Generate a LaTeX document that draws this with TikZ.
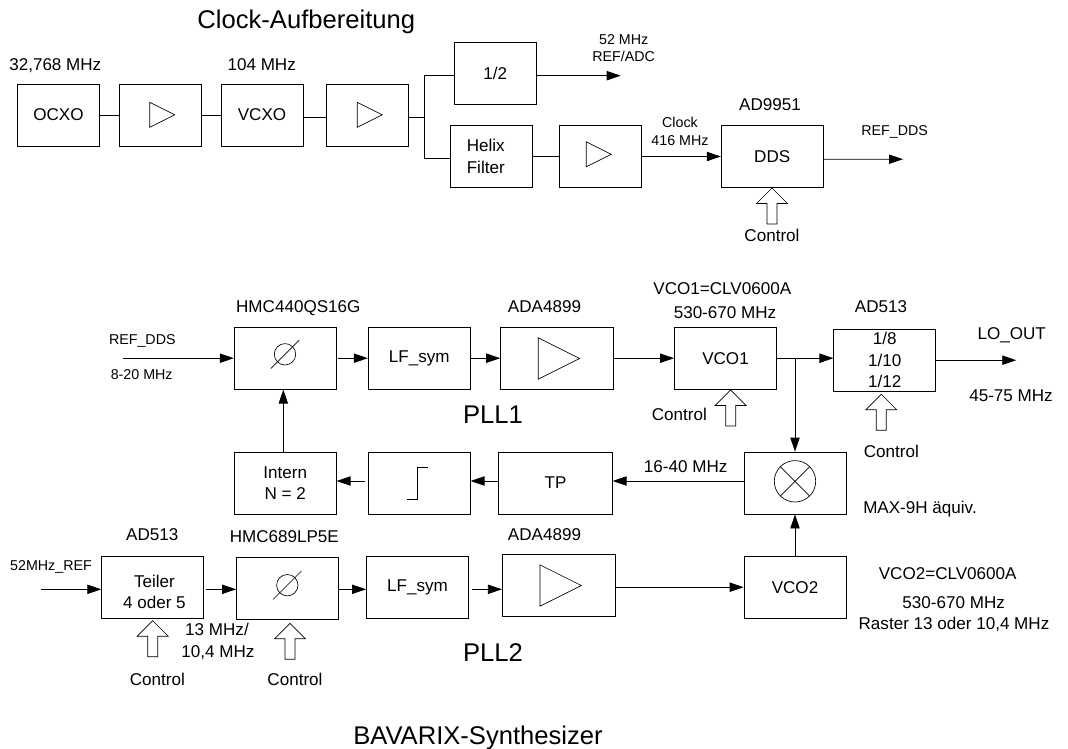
\documentclass[tikz,border=0pt]{standalone}
\usepackage{fontspec}
\setmainfont{Liberation Sans}
\usetikzlibrary{arrows.meta, calc}
\tikzset{
  % blocks
  box/.style={draw, line width=0.6pt, minimum height=46.5pt, minimum width=76.5pt,
    inner sep=0pt, align=center, font=\fontsize{12.8}{16}\selectfont},
  box short/.style={box, minimum width=61.5pt},
  box amp/.style={box, minimum width=85pt},
  % signal paths
  wire/.style={line width=0.6pt},
  sig/.style={wire, -{Triangle[length=10.5pt, width=7pt]}},
  % texts
  lbl/.style={anchor=base, font=\fontsize{12.8}{16}\selectfont},
  smalllbl/.style={anchor=base, font=\fontsize{10.7}{13}\selectfont},
  biglbl/.style={anchor=base, font=\fontsize{19.2}{23}\selectfont},
  % symbols in the blocks
  amptri/.pic={
    \draw[line width=0.5pt] (0,-12.5) -- (25,0) -- (0,12.5) -- cycle;
  },
  ctrlarrow/.pic={
    \draw[line width=0.5pt] (0,0) -- (15.5,15.5) -- (5,15.5) -- (5,36) -- (-5,36) -- (-5,15.5) -- (-15.5,15.5) -- cycle;
  },
  phase/.pic={
    \draw[line width=0.5pt] (0,0) circle (10.7);
    \draw[line width=0.5pt] (-14.2,14.2) -- (14.2,-14.2);
  },
  mixsym/.pic={
    \draw[line width=0.5pt] (0,0) circle (20.7);
    \draw[line width=0.5pt] (-14.6,-14.6) -- (14.6,14.6);
    \draw[line width=0.5pt] (-14.6,14.6) -- (14.6,-14.6);
  },
  stepsym/.pic={
    \draw[line width=0.5pt] (0,0) -- (10,0) -- (10,-31.7) -- (20.4,-31.7);
  },
}
\begin{document}
\begin{tikzpicture}[x=0.75pt, y=-0.75pt]
  \useasboundingbox (0,0) rectangle (1068,749);
  % clock chain
  \node[box short] (ocxo) at (58.5,115) {OCXO};
  \node[box short] (ampa) at (160.2,115) {};
  \node[box short] (vcxo) at (262,115) {VCXO};
  \node[box short] (ampb) at (367.7,115) {};
  \node[box short] (half) at (495.3,73.3) {1/2};
  \node[box short, label={[name=helixtxt, xshift=-4.3pt, align=center, font=\fontsize{12.8}{16}\selectfont]center:Helix\\Filter}] (helix) at (491.5,156.5) {};
  \node[box short] (ampc) at (600.8,156.5) {};
  \node[box] (dds) at (772.2,156.5) {DDS};
  \coordinate (split) at (424.7,117);
  \coordinate (halfout) at (620.7,75.7);
  \coordinate (ddsout) at (903,159.2);
  \draw[wire] (ocxo.east) -- (ampa.west);
  \draw[wire] (ampa.east) -- (vcxo.west);
  \draw[wire] ([yshift=-1.5pt]vcxo.east) -- ([yshift=-1.5pt]ampb.west);
  \draw[wire] ([yshift=-1.5pt]ampb.east) -- (split);
  \draw[wire] (split) |- ([yshift=-1.8pt]half.west);
  \draw[wire] (split) |- ([yshift=-1.6pt]helix.west);
  \draw[sig] ([yshift=-1.8pt]half.east) -- (halfout);
  \draw[wire] (helix.east) -- (ampc.west);
  \draw[sig] (ampc.east) -- (dds.west);
  \draw[sig] ([yshift=-2pt]dds.east) -- (ddsout);
  % PLL1
  \node[box] (pdone) at (285.2,358.2) {};
  \node[box] (lfone) at (419.2,358.2) {LF\_sym};
  \node[box amp] (ampd) at (557.2,358.2) {};
  \node[box] (vcoone) at (725.5,358.2) {VCO1};
  \node[box] (divout) at (884.8,360.2) {1/8\\1/10\\1/12};
  \node[box] (intern) at (285.2,483) {Intern\\N = 2};
  \node[box] (stepf) at (419.2,483) {};
  \node[box amp] (tp) at (555.5,483) {TP};
  \node[box] (mixer) at (795,483) {};
  \coordinate (refin) at (123.3,358.2);
  \coordinate (loout) at (1016.3,360.2);
  \draw[sig] (refin) -- (pdone.west);
  \draw[sig, shorten <=1pt] (pdone.east) -- (lfone.west);
  \draw[sig] (lfone.east) -- (ampd.west);
  \draw[sig] (ampd.east) -- (vcoone.west);
  \draw[sig] (vcoone.east) -- ([yshift=1.5pt]divout.west);
  \draw[sig] (vcoone.east -| mixer.north) -- (mixer.north);
  \draw[sig] (divout.east) -- (loout);
  \draw[sig] ([yshift=1.5pt]mixer.west) -- ([yshift=1.5pt]tp.east);
  \draw[sig] ([yshift=1.5pt]tp.west) -- ([yshift=1.5pt]stepf.east);
  \draw[sig, shorten <=2.4pt] ([yshift=1.5pt]stepf.west) -- ([yshift=1.5pt]intern.east);
  \draw[sig] ([xshift=-1.4pt]intern.north) -- ([xshift=-1.4pt]pdone.south);
  % PLL2
  \node[box, label={[name=teilertxt, xshift=1.3pt, yshift=-3.8pt, align=center, font=\fontsize{12.8}{15.75}\selectfont]center:Teiler\\4 oder 5}] (teiler) at (152.7,587.2) {};
  \node[box] (pdtwo) at (287.5,588.8) {};
  \node[box] (lftwo) at (417.5,587.2) {LF\_sym};
  \node[box amp] (ampe) at (559,585.2) {};
  \node[box] (vcotwo) at (795,587.2) {VCO2};
  \coordinate (refinb) at (40.7,589.3);
  \draw[sig] (refinb) -- (teiler.west |- refinb);
  \draw[sig, shorten <=1.7pt] (teiler.east |- refinb) -- (pdtwo.west |- refinb);
  \draw[sig] (pdtwo.east |- refinb) -- (lftwo.west |- refinb);
  \draw[sig, shorten <=2.5pt] (lftwo.east |- refinb) -- (ampe.west |- refinb);
  \draw[sig] (ampe.east |- vcotwo.west) -- (vcotwo.west);
  \draw[sig] (vcotwo.north) -- (mixer.south);
  % symbols
  \pic at (149.7,114.8) {amptri};
  \pic at (357.3,114.8) {amptri};
  \pic at (586.3,154.3) {amptri};
  \pic[scale=1.65] at (538.3,358.5) {amptri};
  \pic[scale=1.65] at (540,585.5) {amptri};
  \pic at (285,354.3) {phase};
  \pic at (287.3,585.2) {phase};
  \pic at (795,481.3) {mixsym};
  \pic at (407.3,499) {stepsym};
  \pic at (772,188) {ctrlarrow};
  \pic at (730.7,390) {ctrlarrow};
  \pic at (881.3,394.3) {ctrlarrow};
  \pic at (152.7,620.7) {ctrlarrow};
  \pic at (290,623.3) {ctrlarrow};
  % titles
  \foreach \x/\y/\t/\n in {306.3/29/Clock-Aufbereitung/tclock, 493/423.3/PLL1/tpllone,
    493/661.7/PLL2/tplltwo, 478/744/BAVARIX-Synthesizer/tsynth} {
    \node[biglbl] (\n) at (\x,\y) {\t};
  }
  \foreach \x/\y/\t/\n in {55.3/71/{32,768 MHz}/focxo, 261.7/71/104 MHz/fvcxo, 770/110.3/AD9951/tdds,
    772/241/Control/cdds, 298.3/312/HMC440QS16G/tpdone, 544.5/312/ADA4899/tampd,
    722.3/294.3/VCO1=CLV0600A/tvcoone, 725/318.3/530-670 MHz/fvcoone, 881/312/AD513/tdiv,
    1011.7/339/LO\_OUT/tlo, 1011/401.7/45-75 MHz/flo, 679.3/420/Control/cvcoone,
    891.3/457.3/Control/cdiv, 685.7/472/16-40 MHz/ftp, 920/513/MAX-9H äquiv./tmix,
    152.3/540.7/AD513/tteiler, 284.3/542.3/HMC689LP5E/tpdtwo, 544.5/540.7/ADA4899/tampe,
    217/635/{13 MHz/}/fteilera, 218/657/{10,4 MHz}/fteilerb, 157.3/685.7/Control/cteiler,
    295/685.7/Control/cpdtwo, 947.7/579/VCO2=CLV0600A/tvcotwo, 953.7/608.3/530-670 MHz/fvcotwo,
    954/629/{Raster 13 oder 10,4 MHz}/frast} {
    \node[lbl] (\n) at (\x,\y) {\t};
  }
  \foreach \x/\y/\t/\n in {623.7/44.3/52 MHz/fhalf, 623.7/62/{REF/ADC}/thalf, 680/127.3/Clock/tclk,
    680/145.3/416 MHz/fclk, 894.7/136/REF\_DDS/trefout, 142.3/344/REF\_DDS/trefin,
    141.7/379.3/8-20 MHz/frefin, 51/570.3/52MHz\_REF/trefb} {
    \node[smalllbl] (\n) at (\x,\y) {\t};
  }
\end{tikzpicture}
\end{document}
